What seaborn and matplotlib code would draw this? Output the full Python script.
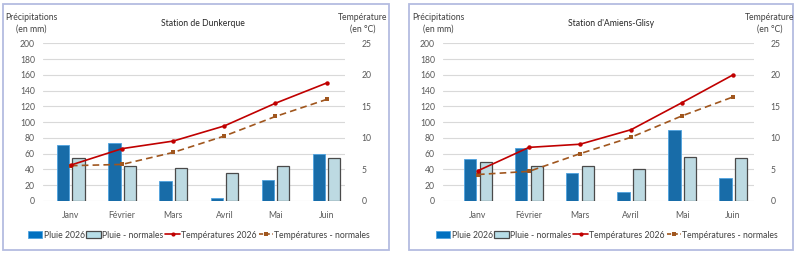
import numpy as np
import pandas as pd
import matplotlib
matplotlib.use("Agg")
import matplotlib.pyplot as plt
import seaborn as sns
from matplotlib.patches import Patch, Rectangle
from matplotlib.lines import Line2D

mois = ["Janv", "Février", "Mars", "Avril", "Mai", "Juin"]

# Station de Dunkerque
dk_pluie_2026 = [71, 74, 25, 4, 26, 59]
dk_pluie_norm = [54, 45, 42, 36, 45, 54]
dk_temp_2026 = [5.7, 8.3, 9.5, 11.9, 15.5, 18.7]
dk_temp_norm = [5.6, 5.8, 7.7, 10.3, 13.4, 16.1]

# Station d'Amiens-Glisy
am_pluie_2026 = [53, 67, 35, 12, 90, 29]
am_pluie_norm = [49, 45, 45, 40, 56, 54]
am_temp_2026 = [4.8, 8.5, 9.0, 11.3, 15.6, 20.0]
am_temp_norm = [4.2, 4.7, 7.5, 10.1, 13.5, 16.5]

titres = ["Station de Dunkerque", "Station d'Amiens-Glisy"]
series_pluie = ["Pluie 2026", "Pluie - normales"]
series_temp = ["Températures 2026", "Températures - normales"]

C_BLUE = "#0070C0"
C_BLUE_EDGE = "#4FA3E0"
C_LIGHT = "#B7DEE8"
C_LIGHT_EDGE = "#4A4A4A"
C_RED = "#C00000"
C_BROWN = "#A0561E"
C_GRID = "#D9D9D9"
C_TICK = "#595959"
C_TEXT = "#404040"

sns.set_theme(style="white")
plt.rcParams["font.family"] = ["Lato", "DejaVu Sans"]
FS = 6.2

fig = plt.figure(figsize=(8.0, 2.54), dpi=100)
W, H = 800.0, 254.0

panels = [
    dict(data=(dk_pluie_2026, dk_pluie_norm, dk_temp_2026, dk_temp_norm),
         ax=(43.3, 345.0), xlim=(-0.54, 5.36), frame=(3, 389),
         ylab_x=31.5, tlab_x=363, title_x=203, leg_x=199),
    dict(data=(am_pluie_2026, am_pluie_norm, am_temp_2026, am_temp_norm),
         ax=(443.3, 754.0), xlim=(-0.68, 5.41), frame=(409, 793),
         ylab_x=438, tlab_x=770, title_x=611, leg_x=607),
]

y_bot, y_top = 201.0, 43.3

for i, p in enumerate(panels):
    # panel frame
    fx0, fx1 = p["frame"]
    fig.patches.append(Rectangle((fx0 / W, 1 - 250 / H), (fx1 - fx0) / W, (250 - 3.5) / H,
                                 transform=fig.transFigure, fill=False,
                                 edgecolor="#B4BCE0", linewidth=1.3, zorder=0))
    x0, x1 = p["ax"]
    ax = fig.add_axes([x0 / W, 1 - y_bot / H, (x1 - x0) / W, (y_bot - y_top) / H])
    pl26, plno, t26, tno = p["data"]
    df = pd.DataFrame({
        "mois": mois * 2,
        "valeur": list(pl26) + list(plno),
        "serie": [series_pluie[0]] * 6 + [series_pluie[1]] * 6,
    })
    sns.barplot(data=df, x="mois", y="valeur", hue="serie", order=mois,
                hue_order=series_pluie, palette=[C_BLUE, C_LIGHT],
                width=0.6, gap=0.2, ax=ax, legend=False, zorder=2)
    for cont, ec, lw in zip(ax.containers, [C_BLUE_EDGE, C_LIGHT_EDGE], [0.6, 0.9]):
        for bar in cont:
            bar.set_edgecolor(ec)
            bar.set_linewidth(lw)
    ax.set_ylim(0, 200)
    ax.set_yticks(np.arange(0, 201, 20))
    ax.set_xlim(*p["xlim"])
    ax.grid(axis="y", color=C_GRID, linewidth=0.8, zorder=0)
    ax.set_axisbelow(True)
    for s in ax.spines.values():
        s.set_visible(False)
    ax.tick_params(axis="both", length=0, labelsize=FS, colors=C_TICK, pad=6)
    ax.tick_params(axis="x", pad=7)
    ax.set_xlabel("")
    ax.set_ylabel("")

    ax2 = ax.twinx()
    xs = np.arange(len(mois))
    sns.lineplot(x=xs, y=t26, ax=ax2, color=C_RED, linewidth=1.2,
                 marker="o", markersize=3.2, markeredgewidth=0, zorder=4)
    sns.lineplot(x=xs, y=tno, ax=ax2, color=C_BROWN, linewidth=1.2,
                 linestyle=(0, (4, 2.5)), marker="s", markersize=3.2,
                 markeredgewidth=0, zorder=3)
    ax2.set_ylim(0, 25)
    ax2.set_yticks(np.arange(0, 26, 5))
    ax2.set_xlim(*p["xlim"])
    for s in ax2.spines.values():
        s.set_visible(False)
    ax2.tick_params(axis="y", length=0, labelsize=FS, colors=C_TICK, pad=12)
    ax2.set_ylabel("")
    ax2.grid(False)

    # texts
    fig.text(p["ylab_x"] / W, 1 - 17 / H, "Précipitations", ha="center", va="center",
             fontsize=FS, color=C_TEXT)
    fig.text(p["ylab_x"] / W, 1 - 29 / H, "(en mm)", ha="center", va="center",
             fontsize=FS, color=C_TEXT)
    fig.text(p["tlab_x"] / W, 1 - 17 / H, "Température", ha="center", va="center",
             fontsize=FS, color=C_TEXT)
    fig.text(p["tlab_x"] / W, 1 - 29 / H, "(en °C)", ha="center", va="center",
             fontsize=FS, color=C_TEXT)
    fig.text(p["title_x"] / W, 1 - 24 / H, titres[i], ha="center", va="center",
             fontsize=FS, color="#262626")

    handles = [
        Patch(facecolor=C_BLUE, edgecolor=C_BLUE_EDGE, linewidth=0.6),
        Patch(facecolor=C_LIGHT, edgecolor=C_LIGHT_EDGE, linewidth=0.9),
        Line2D([], [], color=C_RED, linewidth=1.2, marker="o", markersize=3,
               markeredgewidth=0),
        Line2D([], [], color=C_BROWN, linewidth=1.2, linestyle=(0, (2.5, 1.5)),
               marker="s", markersize=3, markeredgewidth=0),
    ]
    fig.legend(handles, series_pluie + series_temp, loc="center",
               bbox_to_anchor=(p["leg_x"] / W, 1 - 235 / H), ncol=4, frameon=False,
               fontsize=FS, handlelength=1.7, handleheight=0.9, handletextpad=0.15,
               columnspacing=0.2, labelcolor=C_TEXT, borderpad=0)

fig.savefig("out.png", dpi=100, facecolor="white")
